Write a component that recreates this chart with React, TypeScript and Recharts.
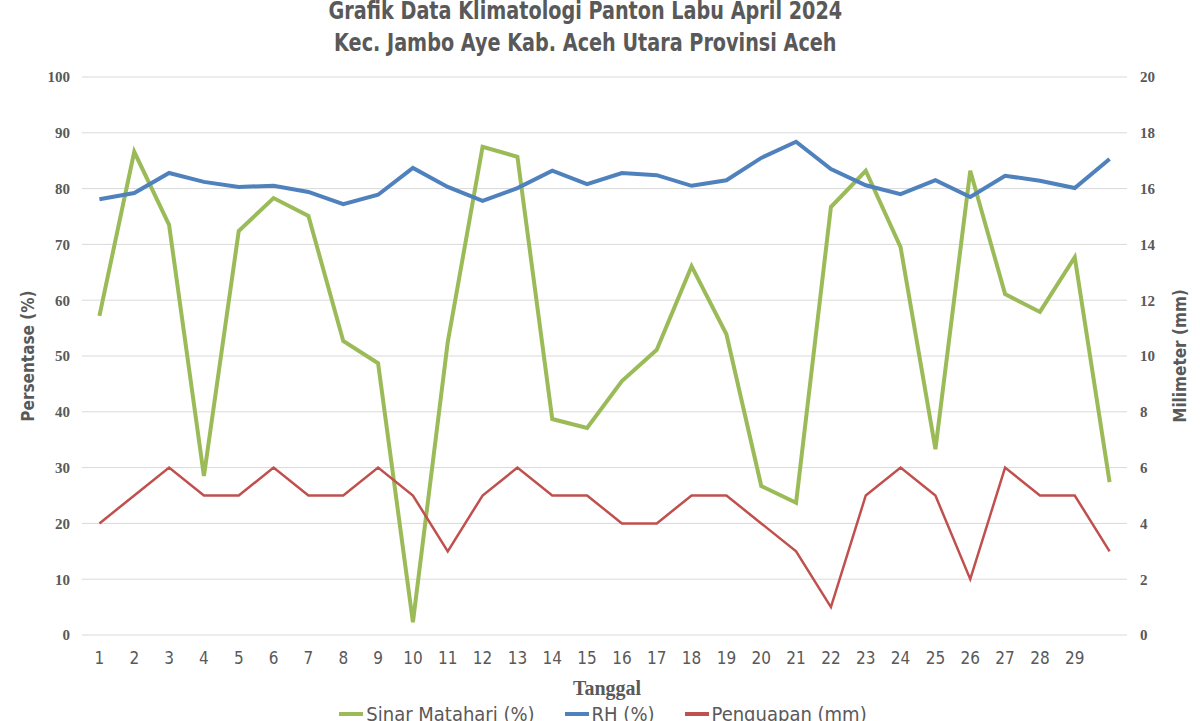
import React from 'react';
import { ComposedChart, Line, XAxis, YAxis, CartesianGrid } from 'recharts';

const days = [1, 2, 3, 4, 5, 6, 7, 8, 9, 10, 11, 12, 13, 14, 15, 16, 17, 18, 19, 20, 21, 22, 23, 24, 25, 26, 27, 28, 29, 30];
const dayLabels = ['1', '2', '3', '4', '5', '6', '7', '8', '9', '10', '11', '12', '13', '14', '15', '16', '17', '18', '19', '20', '21', '22', '23', '24', '25', '26', '27', '28', '29', ''];
const sinarMatahari = [57.2, 86.6, 73.5, 28.5, 72.4, 78.3, 75.1, 52.7, 48.7, 2.3, 52.5, 87.5, 85.7, 38.7, 37.1, 45.5, 51.1, 66.1, 53.9, 26.7, 23.7, 76.7, 83.2, 69.5, 33.3, 83.2, 61.1, 57.9, 67.7, 27.4];
const rh = [78.1, 79.2, 82.8, 81.2, 80.3, 80.5, 79.4, 77.2, 78.9, 83.7, 80.3, 77.8, 80.1, 83.2, 80.8, 82.8, 82.4, 80.5, 81.5, 85.5, 88.4, 83.5, 80.6, 79.0, 81.5, 78.5, 82.3, 81.4, 80.1, 85.3];
const penguapan = [4, 5, 6, 5, 5, 6, 5, 5, 6, 5, 3, 5, 6, 5, 5, 4, 4, 5, 5, 4, 3, 1, 5, 6, 5, 2, 6, 5, 5, 3];

const leftTicks = [0, 10, 20, 30, 40, 50, 60, 70, 80, 90, 100];
const rightTicks = [0, 2, 4, 6, 8, 10, 12, 14, 16, 18, 20];
const labelTicks = days.slice(0, 29);
const boundaryTicks = [0.5, ...days.map((d) => d + 0.5)];

const data = days.map((d, i) => ({
  day: d,
  sinar: sinarMatahari[i],
  rh: rh[i],
  penguapan: penguapan[i],
}));

const narrow = "'Liberation Sans Narrow', 'DejaVu Sans Condensed', sans-serif";
const serif = "'Liberation Serif', 'DejaVu Serif', serif";
const gray = '#595959';

const legendItems = [
  { name: 'Sinar Matahari (%)', color: '#9BBB59' },
  { name: 'RH (%)', color: '#4F81BD' },
  { name: 'Penguapan (mm)', color: '#C0504D' },
];

export default function App() {
  return (
    <div style={{ position: 'relative', width: 1200, height: 721, background: '#fff', overflow: 'hidden' }}>
      <style>{'body{margin:0}'}</style>
      <div
        style={{
          position: 'absolute', top: -5, left: 0, width: 1170, textAlign: 'center',
          fontFamily: narrow, fontWeight: 'bold', fontSize: 24, color: gray, lineHeight: '32px',
          transform: 'scaleX(0.89)', transformOrigin: '588px 0',
        }}
      >
        <div>Grafik Data Klimatologi Panton Labu April 2024</div>
        <div>Kec. Jambo Aye Kab. Aceh Utara Provinsi Aceh</div>
      </div>
      <ComposedChart width={1200} height={721} data={data} margin={{ top: 77, right: 23, bottom: 56, left: 32 }}>
        <CartesianGrid yAxisId="left" xAxisId="grid" vertical={false} stroke="#d9d9d9" />
        <XAxis
          xAxisId="grid"
          dataKey="day"
          type="number"
          domain={[0.5, 30.5]}
          ticks={boundaryTicks}
          tick={false}
          tickSize={6}
          height={0}
          axisLine={{ stroke: '#d9d9d9' }}
          tickLine={{ stroke: '#d9d9d9' }}
        />
        <XAxis
          dataKey="day"
          type="number"
          domain={[0.5, 30.5]}
          ticks={labelTicks}
          tickFormatter={(v) => dayLabels[v - 1]}
          interval={0}
          height={30}
          axisLine={false}
          tickLine={false}
          tickSize={6}
          tickMargin={11}
          tick={{ fontFamily: narrow, fontSize: 17, fill: gray }}
        />
        <YAxis
          yAxisId="left"
          domain={[0, 100]}
          ticks={leftTicks}
          width={50}
          axisLine={false}
          tickLine={false}
          tickMargin={6}
          tick={{ fontFamily: serif, fontSize: 15, fill: gray, fontWeight: 'bold' }}
          label={{ value: 'Persentase (%)', angle: -90, position: 'left', offset: 4, style: { fontFamily: narrow, fontSize: 17, fontWeight: 'bold', fill: gray, textAnchor: 'middle' } }}
        />
        <YAxis
          yAxisId="right"
          orientation="right"
          domain={[0, 20]}
          ticks={rightTicks}
          width={50}
          axisLine={false}
          tickLine={false}
          tickMargin={7}
          tick={{ fontFamily: serif, fontSize: 15, fill: gray, fontWeight: 'bold' }}
          label={{ value: 'Milimeter (mm)', angle: -90, position: 'right', offset: 3, style: { fontFamily: narrow, fontSize: 17, fontWeight: 'bold', fill: gray, textAnchor: 'middle' } }}
        />
        <Line yAxisId="left" dataKey="sinar" name="Sinar Matahari (%)" stroke="#9BBB59" strokeWidth={4} dot={false} isAnimationActive={false} />
        <Line yAxisId="left" dataKey="rh" name="RH (%)" stroke="#4F81BD" strokeWidth={4} dot={false} isAnimationActive={false} />
        <Line yAxisId="right" dataKey="penguapan" name="Penguapan (mm)" stroke="#C0504D" strokeWidth={2.5} dot={false} isAnimationActive={false} />
      </ComposedChart>
      <div
        style={{
          position: 'absolute', top: 677, left: 0, width: 1214, textAlign: 'center',
          fontFamily: serif, fontWeight: 'bold', fontSize: 20, color: gray,
        }}
      >
        Tanggal
      </div>
      <div
        style={{
          position: 'absolute', top: 702, left: 0, width: 1206, display: 'flex', justifyContent: 'center',
          fontFamily: narrow, fontSize: 20, color: gray, gap: 30,
        }}
      >
        {legendItems.map((it) => (
          <div key={it.name} style={{ display: 'flex', alignItems: 'center' }}>
            <span style={{ display: 'inline-block', width: 24, height: 4, background: it.color, marginRight: 3 }} />
            <span>{it.name}</span>
          </div>
        ))}
      </div>
    </div>
  );
}
